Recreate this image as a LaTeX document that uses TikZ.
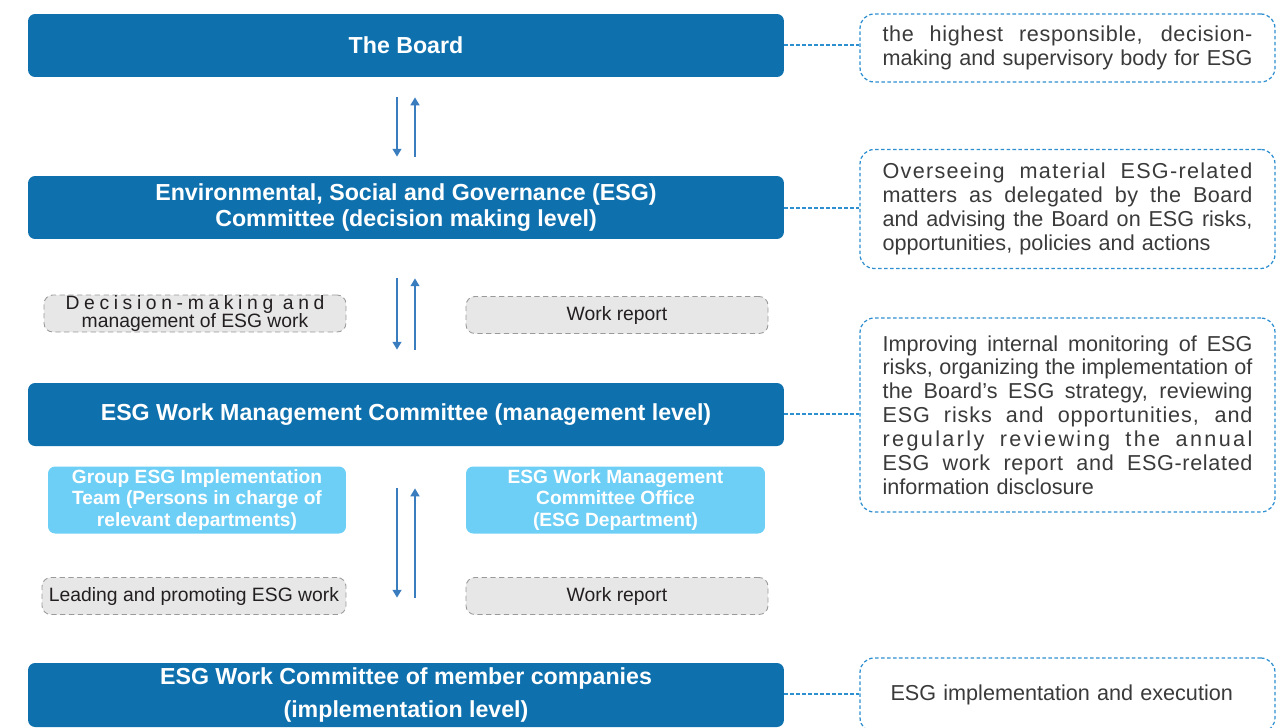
\documentclass[tikz,border=0pt]{standalone}
\usepackage{fontspec}
\setmainfont{Liberation Sans}
\usetikzlibrary{arrows.meta}
\definecolor{esgdark}{HTML}{0E71AE}
\definecolor{esglight}{HTML}{6DCFF6}
\definecolor{esggrey}{HTML}{E7E7E8}
\definecolor{esgdash}{HTML}{9A9A9A}
\definecolor{esgline}{HTML}{2E8FD0}
\definecolor{esgarrow}{HTML}{3A7DBF}
\definecolor{esgink}{HTML}{231F20}
\definecolor{esgtext}{HTML}{3A3A3A}
% justified line, with tracking #2
\newcommand{\filledline}[3]{{\spaceskip=0pt\xspaceskip=0pt\makebox[#1][s]{\addfontfeature{LetterSpace=#2}#3}}}

\begin{document}
\begin{tikzpicture}[x=0.02cm,y=-0.02cm,
  tier/.style={fill=esgdark, rounded corners=4pt, minimum width=15.12cm, minimum height=1.26cm, inner sep=0, text=white, align=center, font=\bfseries\fontsize{13.2}{14.7}\selectfont},
  team/.style={fill=esglight, rounded corners=4pt, minimum height=1.34cm, inner sep=0, text=white, align=center, font=\bfseries\fontsize{10.9}{12.1}\selectfont},
  task/.style={fill=esggrey, draw=esgdash, densely dashed, line width=0.5pt, rounded corners=5pt, minimum width=6.04cm, minimum height=0.74cm, inner sep=0, text=esgink, align=center, font=\fontsize{11}{11.5}\selectfont},
  note/.style={draw=esgline, dash pattern=on 2pt off 1.4pt, line width=0.7pt, rounded corners=8pt, minimum width=8.3cm, inner sep=0, text=esgtext, text width=7.4cm, align=left, font=\fontsize{12.3}{13.6}\selectfont},
  link/.style={esgline, dash pattern=on 2pt off 1.4pt, line width=0.7pt},
  flow/.style={esgarrow, line width=1.1pt, -{Triangle[length=4.5pt,width=5pt]}}]
\useasboundingbox (0,0) rectangle (1287,727);

% the four levels
\node[tier] (board) at (406,45.5) {The Board};
\node[tier] (esgc) at (406,207.5) {Environmental, Social and Governance (ESG)\\Committee (decision making level)};
\node[tier] (mgmt) at (406,414.5) {ESG Work Management Committee (management level)};
\node[tier, minimum height=1.28cm] (member) at (406,695) {ESG Work Committee of member companies\\[4pt](implementation level)};

% teams under the management committee
\node[team, minimum width=5.96cm] (groupteam) at (197,500) {Group ESG Implementation\\Team (Persons in charge of\\relevant departments)};
\node[team, minimum width=5.98cm] (office) at (615.5,500) {ESG Work Management\\Committee Office\\(ESG Department)};

% tasks beside the arrows
\node[task] (decide) at (195,313.5) {\filledline{5.18cm}{24}{Decision-making and}\\[-1pt]management of ESG work};
\node[task] (report1) at (617,315) {Work report};
\node[task, minimum width=6.08cm] (lead) at (194,596) {Leading and promoting ESG work};
\node[task] (report2) at (617,596) {Work report};

% duties on the right
\node[note, minimum height=1.36cm] (duty1) at (1067.5,48) {\filledline{7.4cm}{3}{the highest responsible, decision-}\\\filledline{7.4cm}{0}{making and supervisory body for ESG}};
\node[note, minimum height=2.38cm] (duty2) at (1067.5,209) {\filledline{7.4cm}{6}{Overseeing material ESG-related}\\\filledline{7.4cm}{2}{matters as delegated by the Board}\\\filledline{7.4cm}{0}{and advising the Board on ESG risks,}\\opportunities, policies and actions};
\node[note, minimum height=3.88cm] (duty3) at (1067.5,415) {\filledline{7.4cm}{0}{Improving internal monitoring of ESG}\\\filledline{7.4cm}{0}{risks, organizing the implementation of}\\\filledline{7.4cm}{1}{the Board’s ESG strategy, reviewing}\\\filledline{7.4cm}{4}{ESG risks and opportunities, and}\\\filledline{7.4cm}{11}{regularly reviewing the annual}\\\filledline{7.4cm}{3}{ESG work report and ESG-related}\\information disclosure};
\node[note, minimum height=1.48cm] (duty4) at (1067.5,695) {\hspace*{0.16cm}ESG implementation and execution};

% dashed links
\draw[link] (board.east |- 0,45) -- (duty1.west |- 0,45);
\draw[link] (esgc.east |- 0,208) -- (duty2.west |- 0,208);
\draw[link] (mgmt.east |- 0,414) -- (duty3.west |- 0,414);
\draw[link] (member.east |- 0,694) -- (duty4.west |- 0,694);

% arrows between levels
\draw[flow, shorten <=0.4cm, shorten >=0.38cm] ([xshift=-0.18cm]board.south) -- ([xshift=-0.18cm]esgc.north);
\draw[flow, shorten <=0.38cm, shorten >=0.4cm] ([xshift=0.18cm]esgc.north) -- ([xshift=0.18cm]board.south);
\draw[flow, shorten <=0.78cm, shorten >=0.66cm] ([xshift=-0.18cm]esgc.south) -- ([xshift=-0.18cm]mgmt.north);
\draw[flow, shorten <=0.66cm, shorten >=0.78cm] ([xshift=0.18cm]mgmt.north) -- ([xshift=0.18cm]esgc.south);
\draw[flow, shorten <=0.84cm, shorten >=1.3cm] ([xshift=-0.18cm]mgmt.south) -- ([xshift=-0.18cm]member.north);
\draw[flow, shorten <=1.3cm, shorten >=0.84cm] ([xshift=0.18cm]member.north) -- ([xshift=0.18cm]mgmt.south);
\end{tikzpicture}
\end{document}
